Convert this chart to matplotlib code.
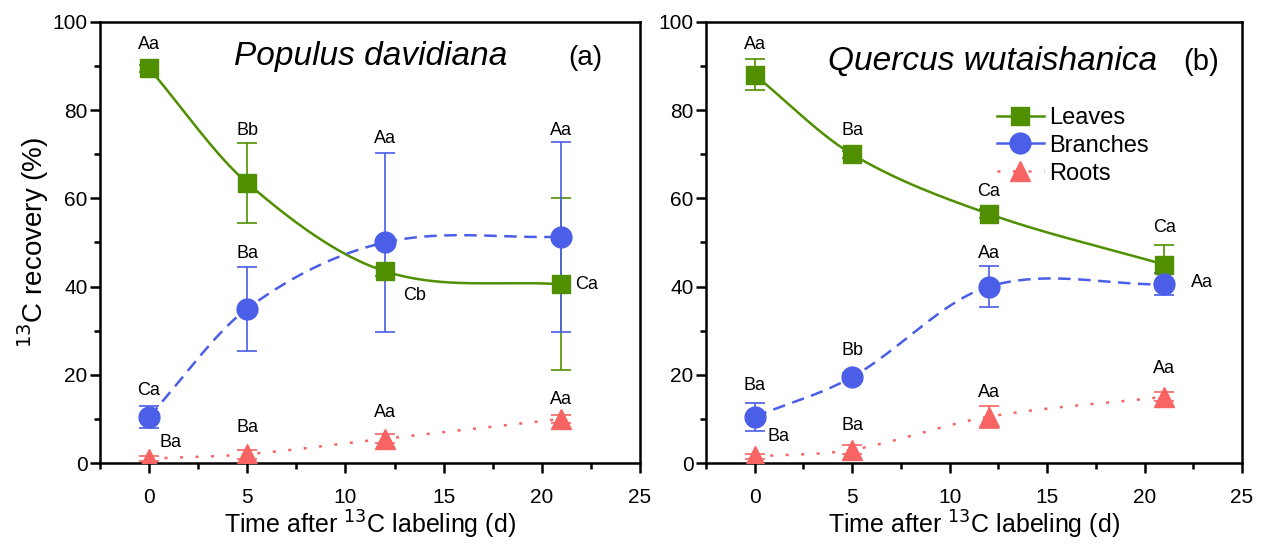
import matplotlib.pyplot as plt
from matplotlib.ticker import MultipleLocator
import numpy as np

plt.rcParams['font.family'] = ['Liberation Sans', 'DejaVu Sans']

days = [0, 5, 12, 21]

# (a) Populus davidiana
pd_leaves = [89.5, 63.5, 43.5, 40.5]
pd_leaves_err = [0.8, 9.0, 1.0, 19.5]
pd_branches = [10.5, 35.0, 50.0, 51.3]
pd_branches_err = [2.5, 9.5, 20.3, 21.5]
pd_roots = [1.0, 2.0, 5.5, 10.0]
pd_roots_err = [0.5, 1.0, 1.0, 1.0]
pd_lab_leaves = ["Aa", "Bb", "Cb", "Ca"]
pd_lab_branches = ["Ca", "Ba", "Aa", "Aa"]
pd_lab_roots = ["Ba", "Ba", "Aa", "Aa"]

# (b) Quercus wutaishanica
qw_leaves = [88.0, 70.0, 56.5, 45.0]
qw_leaves_err = [3.5, 0.8, 1.0, 4.5]
qw_branches = [10.5, 19.5, 40.0, 40.5]
qw_branches_err = [3.2, 0.8, 4.7, 2.5]
qw_roots = [1.5, 3.0, 10.5, 15.0]
qw_roots_err = [0.5, 1.0, 2.5, 1.0]
qw_lab_leaves = ["Aa", "Ba", "Ca", "Ca"]
qw_lab_branches = ["Ba", "Bb", "Aa", "Aa"]
qw_lab_roots = ["Ba", "Ba", "Aa", "Aa"]

GREEN = "#4f8f00"
BLUE = "#4a5ee8"
RED = "#f86464"

DASH = {"--": (0, (5, 3)), ":": (0, (1.2, 5))}


def smooth(x, y, n=60):
    # Catmull-Rom style hermite curve through the points
    x = np.asarray(x, float)
    y = np.asarray(y, float)
    k = len(x)
    m = np.zeros(k)
    for i in range(1, k - 1):
        m[i] = (y[i + 1] - y[i - 1]) / (x[i + 1] - x[i - 1])
    m[0] = (y[1] - y[0]) / (x[1] - x[0])
    m[-1] = (y[-1] - y[-2]) / (x[-1] - x[-2])
    xs, ys = [], []
    for i in range(k - 1):
        h = x[i + 1] - x[i]
        t = np.linspace(0, 1, n)
        h00 = 2 * t**3 - 3 * t**2 + 1
        h10 = t**3 - 2 * t**2 + t
        h01 = -2 * t**3 + 3 * t**2
        h11 = t**3 - t**2
        xs.append(x[i] + t * h)
        ys.append(h00 * y[i] + h10 * h * m[i] + h01 * y[i + 1] + h11 * h * m[i + 1])
    return np.concatenate(xs), np.concatenate(ys)


def series(ax, y, err, color, marker, ls, ms, label):
    xs, ys = smooth(days, y)
    ax.plot(xs, ys, color=color, ls=DASH.get(ls, ls), lw=1.8, zorder=2)
    ax.errorbar(days, y, yerr=err, fmt="none", ecolor=color, elinewidth=1.2,
                capsize=7, capthick=1.2, zorder=3)
    ax.plot(days, y, ls="none", marker=marker, ms=ms, color=color, zorder=4)
    ax.plot([], [], color=color, ls=DASH[ls] if ls == ":" else "-", lw=1.8,
            marker=marker, ms=ms, label=label)


def style(ax):
    ax.set_xlim(-2.5, 25)
    ax.set_ylim(0, 100)
    ax.xaxis.set_major_locator(MultipleLocator(5))
    ax.xaxis.set_minor_locator(MultipleLocator(2.5))
    ax.yaxis.set_major_locator(MultipleLocator(20))
    ax.yaxis.set_minor_locator(MultipleLocator(10))
    ax.tick_params(which="both", direction="out", width=1.8, labelsize=15)
    ax.tick_params(axis="x", which="major", length=7, pad=11)
    ax.tick_params(axis="y", which="major", length=7, pad=2)
    ax.tick_params(which="minor", length=4)
    for s in ax.spines.values():
        s.set_linewidth(1.8)
    ax.set_xlabel("Time after $^{13}$C labeling (d)", fontsize=18, labelpad=1)


fig = plt.figure(figsize=(12.62, 5.49), dpi=100)
ax1 = fig.add_axes([0.0792, 0.1566, 0.4279, 0.8034])
ax2 = fig.add_axes([0.5594, 0.1566, 0.4248, 0.8034])

lab_kw = dict(fontsize=13, ha="center", va="center")

# panel a
series(ax1, pd_leaves, pd_leaves_err, GREEN, "s", "-", 13, "Leaves")
series(ax1, pd_branches, pd_branches_err, BLUE, "o", "--", 15, "Branches")
series(ax1, pd_roots, pd_roots_err, RED, "^", ":", 15, "Roots")
style(ax1)
ax1.set_ylabel("$^{13}$C recovery (%)", fontsize=20, labelpad=1)
ax1.text(11.3, 90.2, "Populus davidiana", style="italic", fontsize=24,
         ha="center", va="baseline")
ax1.text(22.2, 90.2, "(a)", fontsize=20, ha="center", va="baseline")

for x, t, y in zip(days, pd_lab_leaves, [95.0, 75.5, 38.0, 40.5]):
    dx = {12: 1.5, 21: 1.3}.get(x, 0)
    ax1.text(x + dx, y, t, **lab_kw)
for x, t, y in zip(days, pd_lab_branches, [16.5, 47.5, 73.5, 75.5]):
    ax1.text(x, y, t, **lab_kw)
for x, t, y in zip(days, pd_lab_roots, [4.6, 8.0, 11.5, 14.5]):
    ax1.text(x + (1.1 if x == 0 else 0), y, t, **lab_kw)

# panel b
series(ax2, qw_leaves, qw_leaves_err, GREEN, "s", "-", 13, "Leaves")
series(ax2, qw_branches, qw_branches_err, BLUE, "o", "--", 15, "Branches")
series(ax2, qw_roots, qw_roots_err, RED, "^", ":", 15, "Roots")
style(ax2)
ax2.text(12.2, 89.1, "Quercus wutaishanica", style="italic", fontsize=24,
         ha="center", va="baseline")
ax2.text(22.9, 89.1, "(b)", fontsize=21, ha="center", va="baseline")

for x, t, y in zip(days, qw_lab_leaves, [95.0, 75.5, 61.5, 53.5]):
    ax2.text(x, y, t, **lab_kw)
for x, t, y in zip(days, qw_lab_branches, [17.5, 25.5, 47.5, 41.0]):
    ax2.text(x + (1.95 if x == 21 else 0), y, t, **lab_kw)
for x, t, y in zip(days, qw_lab_roots, [6.0, 8.5, 16.0, 21.5]):
    ax2.text(x + (1.2 if x == 0 else 0), y, t, **lab_kw)

ax2.legend(loc="upper left", bbox_to_anchor=(0.525, 0.829), frameon=False,
           fontsize=17, handlelength=2.0, handletextpad=0.2, labelspacing=0.25,
           borderaxespad=0)

fig.savefig("out.png", dpi=100)
